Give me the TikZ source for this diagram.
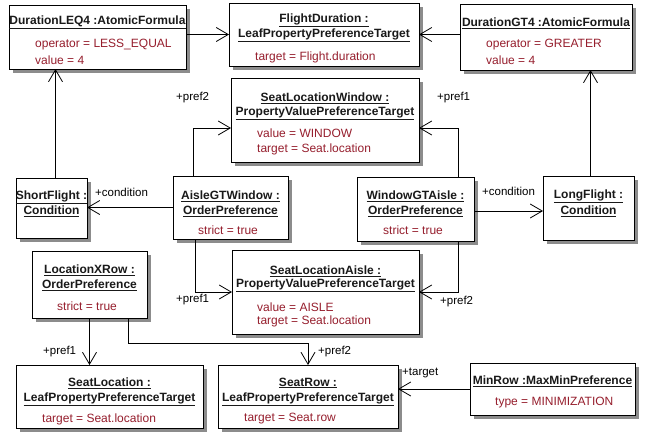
\documentclass[tikz,border=0pt]{standalone}
\usepackage{fontspec}
\setmainfont{Liberation Sans}
\usetikzlibrary{arrows.meta,shadows,calc}
\definecolor{attrc}{RGB}{150,30,45}
\definecolor{ttlc}{RGB}{25,25,25}
\newcommand\umlbox[5]{\node[umlbox, minimum width=#4-#2, minimum height=#5-#3] (#1) at (#2,#3) {};}
\begin{document}
\begin{tikzpicture}[x=1pt,y=-1pt,
  umlbox/.style={draw=black, line width=0.9pt, fill=white, inner sep=0pt, outer sep=0pt, anchor=north west,
    drop shadow={shadow xshift=3.5pt, shadow yshift=-3.5pt, fill=black!50, opacity=0.9}},
  ttl/.style={font=\fontsize{12}{14}\selectfont\bfseries, text=ttlc, inner sep=0pt},
  att/.style={font=\fontsize{12}{14}\selectfont, text=attrc, inner sep=0pt, anchor=west},
  lbl/.style={font=\fontsize{11.5}{14}\selectfont, inner sep=0pt, anchor=west},
  assoc/.style={draw, line width=0.8pt, -{Straight Barb[length=12pt,width=14pt,line width=0.8pt]}}]
\useasboundingbox[fill=white] (0,0) rectangle (645,442);

% boxes
\umlbox{leq}{9}{5}{186}{69}
\umlbox{fd}{229}{3}{419}{66}
\umlbox{gt}{460}{4}{632}{70}
\umlbox{slw}{231}{78}{419}{162}
\umlbox{sf}{16}{178}{87}{238}
\umlbox{agw}{173}{176}{288}{239}
\umlbox{wga}{357}{177}{474}{241}
\umlbox{lf}{543}{176}{634}{240}
\umlbox{lxr}{32}{251}{147}{318}
\umlbox{sla}{232}{250}{419}{334}
\umlbox{sl}{16}{365}{203}{428}
\umlbox{sr}{218}{365}{398}{428}
\umlbox{mr}{470}{363}{635}{415}

% texts
\node[ttl] (leqT) at (97.5,22) {\underline{DurationLEQ4 :AtomicFormula}};
\node[att] (leqA) at (35,45) {operator = LESS\_EQUAL};
\node[att] (leqB) at (35,60) {value = 4};

\node[ttl] (fdT) at (324,20) {\underline{FlightDuration :}};
\node[ttl] (fdU) at (324,35) {\underline{LeafPropertyPreferenceTarget}};
\node[att] (fdA) at (255,57) {target = Flight.duration};

\node[ttl] (gtT) at (546,23) {\underline{DurationGT4 :AtomicFormula}};
\node[att] (gtA) at (486,45) {operator = GREATER};
\node[att] (gtB) at (486,60) {value = 4};

\node[ttl] (slwT) at (325,98) {\underline{SeatLocationWindow :}};
\node[ttl] (slwU) at (325,113) {\underline{PropertyValuePreferenceTarget}};
\node[att] (slwA) at (257,133) {value = WINDOW};
\node[att] (slwB) at (257,149) {target = Seat.location};

\node[ttl] (sfT) at (51.5,197) {\underline{ShortFlight :}};
\node[ttl] (sfU) at (51.5,211) {\underline{Condition}};

\node[ttl] (agwT) at (230.5,196) {\underline{AisleGTWindow :}};
\node[ttl] (agwU) at (230.5,211) {\underline{OrderPreference}};
\node[att] (agwA) at (198,230) {strict = true};

\node[ttl] (wgaT) at (415.5,196) {\underline{WindowGTAisle :}};
\node[ttl] (wgaU) at (415.5,211) {\underline{OrderPreference}};
\node[att] (wgaA) at (383,230) {strict = true};

\node[ttl] (lfT) at (588.5,196) {\underline{LongFlight :}};
\node[ttl] (lfU) at (588.5,211) {\underline{Condition}};

\node[ttl] (lxrT) at (89.5,270) {\underline{LocationXRow :}};
\node[ttl] (lxrU) at (89.5,285) {\underline{OrderPreference}};
\node[att] (lxrA) at (57,306) {strict = true};

\node[ttl] (slaT) at (325.5,271) {\underline{SeatLocationAisle :}};
\node[ttl] (slaU) at (325.5,285) {\underline{PropertyValuePreferenceTarget}};
\node[att] (slaA) at (257,307) {value = AISLE};
\node[att] (slaB) at (257,321) {target = Seat.location};

\node[ttl] (slT) at (109.5,383) {\underline{SeatLocation :}};
\node[ttl] (slU) at (109.5,399) {\underline{LeafPropertyPreferenceTarget}};
\node[att] (slA) at (42,419) {target = Seat.location};

\node[ttl] (srT) at (308,383) {\underline{SeatRow :}};
\node[ttl] (srU) at (308,399) {\underline{LeafPropertyPreferenceTarget}};
\node[att] (srA) at (244,419) {target = Seat.row};

\node[ttl] (mrT) at (552.5,381) {\underline{MinRow :MaxMinPreference}};
\node[att] (mrA) at (495,403) {type = MINIMIZATION};

% connectors
\draw[assoc] (leq.east |- fd.west) -- (fd.west);
\draw[assoc] (gt.west |- fd.east) -- (fd.east);
\draw[assoc] ([xshift=4pt]sf.north) -- ([xshift=4pt]sf.north |- leq.south);
\draw[assoc] ([xshift=2pt]lf.north) -- ([xshift=2pt]lf.north |- gt.south);
\draw[assoc] (agw.west) -- (agw.west -| sf.east);
\draw[assoc] ([yshift=-2pt]wga.east) -- ([yshift=-2pt]wga.east -| lf.west);
\draw[assoc] ([xshift=-37.5pt]agw.north) |- ([yshift=-8pt]slw.west);
\draw[assoc] ([xshift=42.5pt]wga.north) |- ([yshift=-8pt]slw.east);
\draw[assoc] ([xshift=-35.5pt]agw.south) |- (sla.west);
\draw[assoc] ([xshift=42.5pt]wga.south) |- (sla.east);
\draw[assoc] (lxr.south) -- (lxr.south |- sl.north);
\draw[assoc] ([xshift=38.5pt]lxr.south) -- ++(0,25) -| (sr.north);
\draw[assoc] (mr.west) -- (mr.west -| sr.east);

% role labels
\node[lbl] (l1) at (95,192) {+condition};
\node[lbl] (l2) at (482,191) {+condition};
\node[lbl] (l3) at (176,98) {+pref2};
\node[lbl] (l4) at (437,98) {+pref1};
\node[lbl] (l5) at (176,300) {+pref1};
\node[lbl] (l6) at (440,302) {+pref2};
\node[lbl] (l7) at (43,352) {+pref1};
\node[lbl] (l8) at (318,352) {+pref2};
\node[lbl] (l9) at (402,373) {+target};
\end{tikzpicture}
\end{document}
